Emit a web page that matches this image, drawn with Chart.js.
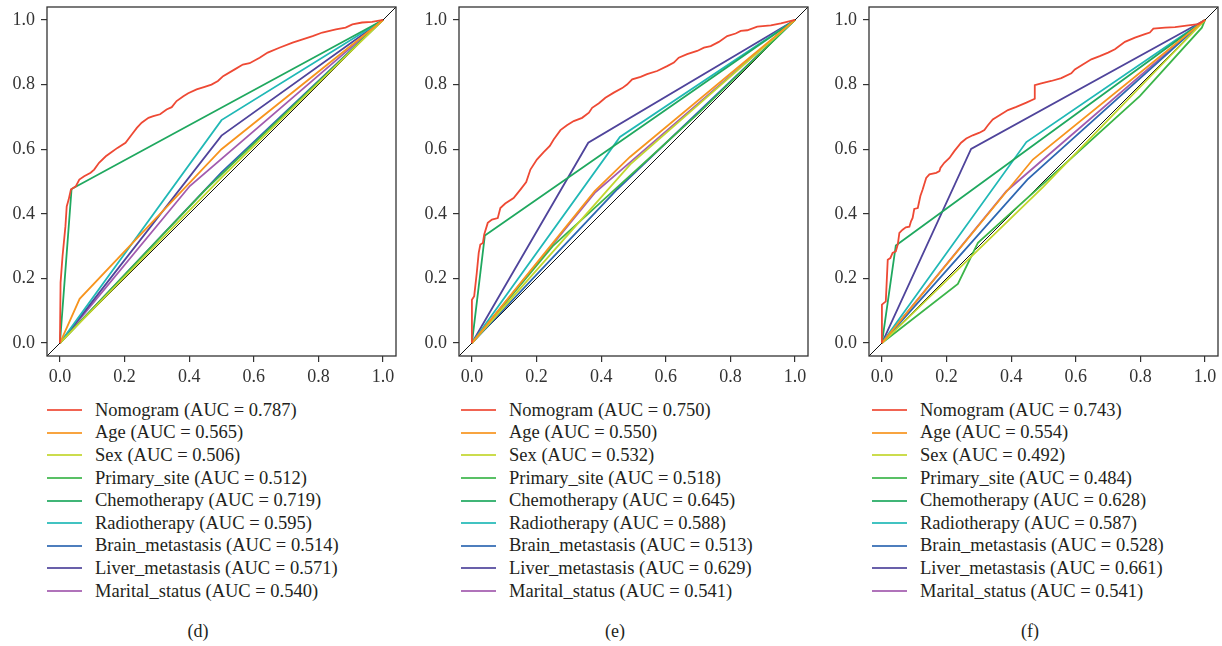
<!DOCTYPE html>
<html>
<head>
<meta charset="utf-8">
<title>ROC</title>
<script src="https://cdn.jsdelivr.net/npm/chart.js@4.4.1/dist/chart.umd.min.js"></script>
<style>
    html, body { margin: 0; padding: 0; background: #fff; }
    body { width: 1222px; height: 646px; position: relative; overflow: hidden;
           font-family: "Liberation Serif", "DejaVu Serif", serif; color: #231f20; }
    .painel { position: absolute; top: 0; }
    .legenda { position: absolute; top: 399px; font-size: 18.5px; }
    .legenda .item { display: flex; align-items: center; height: 22.6px; white-space: nowrap; }
    .legenda .traco { width: 35px; height: 2px; margin-right: 13px; flex: none; }
    .rotulo { position: absolute; top: 620px; font-size: 18px; line-height: 22px; transform: translateX(-50%); }
</style>
</head>
<body>
<canvas id="roc-d" class="painel" width="400" height="395" style="left:0px"></canvas>
<canvas id="roc-e" class="painel" width="400" height="395" style="left:412px"></canvas>
<canvas id="roc-f" class="painel" width="400" height="395" style="left:822px"></canvas>
<div id="leg-d" class="legenda" style="left:47px"></div>
<div id="leg-e" class="legenda" style="left:461px"></div>
<div id="leg-f" class="legenda" style="left:872px"></div>
<div class="rotulo" style="left:198px">(d)</div>
<div class="rotulo" style="left:615px">(e)</div>
<div class="rotulo" style="left:1030px">(f)</div>
<script>
(function () {
    "use strict";

    var NOMES = ["Nomogram", "Age", "Sex", "Primary_site", "Chemotherapy",
        "Radiotherapy", "Brain_metastasis", "Liver_metastasis", "Marital_status"];
    var CORES = ["#ee4934", "#f7941e", "#c2d62e", "#3cb54a", "#1fa85f",
        "#20b8b6", "#2e67b2", "#4f449b", "#a25bae"];
    var TICKS = [0, 0.2, 0.4, 0.6, 0.8, 1.0];
    var EIXO_MIN = -0.04, EIXO_MAX = 1.04;

    var AUC_D = [0.787, 0.565, 0.506, 0.512, 0.719, 0.595, 0.514, 0.571, 0.540];
    var AUC_E = [0.750, 0.550, 0.532, 0.518, 0.645, 0.588, 0.513, 0.629, 0.541];
    var AUC_F = [0.743, 0.554, 0.492, 0.484, 0.628, 0.587, 0.528, 0.661, 0.541];

    // (d) pontos [fpr, tpr]
    var nomogramD = [[0, 0], [0.002, 0.187], [0.008, 0.268], [0.017, 0.361], [0.021, 0.423], [0.027, 0.444],
        [0.034, 0.475], [0.049, 0.485], [0.06, 0.506], [0.075, 0.516], [0.095, 0.527], [0.106, 0.537],
        [0.121, 0.558], [0.142, 0.578], [0.157, 0.589], [0.178, 0.604], [0.203, 0.62], [0.223, 0.646],
        [0.238, 0.666], [0.253, 0.682], [0.274, 0.697], [0.289, 0.702], [0.31, 0.708], [0.33, 0.723],
        [0.346, 0.73], [0.361, 0.749], [0.382, 0.764], [0.397, 0.773], [0.423, 0.785], [0.448, 0.793],
        [0.469, 0.8], [0.489, 0.811], [0.505, 0.826], [0.541, 0.847], [0.566, 0.862], [0.587, 0.866],
        [0.618, 0.883], [0.643, 0.899], [0.679, 0.914], [0.72, 0.93], [0.751, 0.94], [0.782, 0.95],
        [0.812, 0.961], [0.854, 0.971], [0.884, 0.976], [0.905, 0.986], [0.935, 0.992], [0.966, 0.994], [1, 1]];
    var ageD = [[0, 0], [0.061, 0.137], [0.5, 0.6], [1, 1]];
    var sexD = [[0, 0], [0.5, 0.512], [1, 1]];
    var primaryD = [[0, 0], [0.45, 0.474], [1, 1]];
    var chemoD = [[0, 0], [0.036, 0.477], [1, 1]];
    var radioD = [[0, 0], [0.5, 0.69], [1, 1]];
    var brainD = [[0, 0], [0.5, 0.528], [1, 1]];
    var liverD = [[0, 0], [0.5, 0.642], [1, 1]];
    var maritalD = [[0, 0], [0.402, 0.486], [1, 1]];

    // (e)
    var nomogramE = [[0, 0], [0, 0.134], [0.007, 0.145], [0.015, 0.217], [0.021, 0.279], [0.026, 0.305],
        [0.034, 0.31], [0.038, 0.336], [0.049, 0.372], [0.062, 0.382], [0.08, 0.387], [0.088, 0.418],
        [0.103, 0.432], [0.129, 0.449], [0.15, 0.475], [0.168, 0.498], [0.181, 0.537], [0.201, 0.568],
        [0.222, 0.591], [0.241, 0.61], [0.253, 0.63], [0.274, 0.659], [0.294, 0.674], [0.315, 0.687],
        [0.341, 0.697], [0.362, 0.713], [0.372, 0.728], [0.393, 0.742], [0.413, 0.759], [0.439, 0.775],
        [0.465, 0.789], [0.48, 0.8], [0.496, 0.816], [0.522, 0.824], [0.542, 0.832], [0.573, 0.842],
        [0.604, 0.857], [0.625, 0.868], [0.64, 0.883], [0.666, 0.894], [0.697, 0.904], [0.718, 0.914],
        [0.739, 0.919], [0.764, 0.932], [0.79, 0.95], [0.816, 0.958], [0.832, 0.966], [0.852, 0.968],
        [0.883, 0.979], [0.925, 0.983], [0.956, 0.989], [1, 1]];
    var ageE = [[0, 0], [0.38, 0.47], [0.489, 0.576], [1, 1]];
    var sexE = [[0, 0], [0.49, 0.553], [1, 1]];
    var primaryE = [[0, 0], [0.25, 0.3], [0.7, 0.71], [1, 1]];
    var chemoE = [[0, 0], [0.04, 0.333], [1, 1]];
    var radioE = [[0, 0], [0.458, 0.638], [1, 1]];
    var brainE = [[0, 0], [0.45, 0.476], [1, 1]];
    var liverE = [[0, 0], [0.36, 0.62], [1, 1]];
    var maritalE = [[0, 0], [0.38, 0.465], [1, 1]];

    // (f)
    var nomogramF = [[0, 0], [0, 0.119], [0.012, 0.129], [0.018, 0.258], [0.026, 0.263], [0.033, 0.279],
        [0.043, 0.284], [0.049, 0.305], [0.054, 0.341], [0.064, 0.351], [0.074, 0.358], [0.085, 0.36],
        [0.09, 0.377], [0.095, 0.387], [0.1, 0.415], [0.111, 0.418], [0.119, 0.455], [0.126, 0.475],
        [0.137, 0.511], [0.147, 0.522], [0.168, 0.527], [0.178, 0.532], [0.181, 0.542], [0.193, 0.558],
        [0.209, 0.573], [0.224, 0.594], [0.245, 0.62], [0.261, 0.633], [0.281, 0.643], [0.302, 0.651],
        [0.317, 0.659], [0.328, 0.674], [0.343, 0.692], [0.369, 0.708], [0.39, 0.721], [0.416, 0.731],
        [0.447, 0.744], [0.473, 0.756], [0.473, 0.798], [0.493, 0.804], [0.524, 0.811], [0.555, 0.82],
        [0.586, 0.835], [0.597, 0.847], [0.623, 0.863], [0.648, 0.878], [0.674, 0.888], [0.7, 0.899],
        [0.721, 0.909], [0.752, 0.932], [0.783, 0.945], [0.814, 0.956], [0.829, 0.961], [0.84, 0.973],
        [0.876, 0.976], [0.907, 0.978], [0.948, 0.983], [0.979, 0.987], [1, 1]];
    var ageF = [[0, 0], [0.467, 0.568], [1, 1]];
    var sexF = [[0, 0], [0.5, 0.484], [1, 1]];
    var primaryF = [[0, 0], [0.235, 0.183], [0.297, 0.31], [0.798, 0.764], [0.99, 0.976], [1, 1]];
    var chemoF = [[0, 0], [0.043, 0.302], [1, 1]];
    var radioF = [[0, 0], [0.447, 0.622], [1, 1]];
    var brainF = [[0, 0], [0.45, 0.506], [1, 1]];
    var liverF = [[0, 0], [0.276, 0.601], [1, 1]];
    var maritalF = [[0, 0], [0.385, 0.47], [1, 1]];

    var FONTE = "'Liberation Serif', 'DejaVu Serif', serif";
    var TINTA = "#333333";

    // caixa completa em volta da área do gráfico
    var moldura = {
        id: "moldura",
        afterDatasetsDraw: function (chart) {
            var a = chart.chartArea, ctx = chart.ctx;
            ctx.save();
            ctx.strokeStyle = TINTA;
            ctx.lineWidth = 1.3;
            ctx.strokeRect(a.left, a.top, a.right - a.left, a.bottom - a.top);
            ctx.restore();
        }
    };

    function eixo(afterFit) {
        return {
            type: "linear", min: EIXO_MIN, max: EIXO_MAX,
            afterBuildTicks: function (s) { s.ticks = TICKS.map(function (v) { return { value: v }; }); },
            afterFit: function (s) {
                afterFit(s);
                // sem folga extra para o primeiro/último rótulo
                s.paddingTop = 0; s.paddingBottom = 0; s.paddingLeft = 0; s.paddingRight = 0;
            },
            ticks: {
                callback: function (v) { return Number(v).toFixed(1); },
                font: { family: FONTE, size: 18 }, color: TINTA,
                maxRotation: 0, autoSkip: false, padding: 4
            },
            grid: { drawOnChartArea: false, drawTicks: true, tickLength: 6, color: TINTA, lineWidth: 1.2 },
            border: { display: false }
        };
    }

    function criar(id, curvas) {
        var datasets = curvas.map(function (c, i) {
            return {
                label: NOMES[i],
                data: c.map(function (p) { return { x: p[0], y: p[1] }; }),
                borderColor: CORES[i], borderWidth: 1.8,
                pointRadius: 0, tension: 0, fill: false
            };
        });
        // diagonal de referência
        datasets.push({
            label: "ref",
            data: [{ x: EIXO_MIN, y: EIXO_MIN }, { x: EIXO_MAX, y: EIXO_MAX }],
            borderColor: "#111", borderWidth: 1, pointRadius: 0, fill: false
        });
        var x = eixo(function (s) { s.height = 39; });
        var y = eixo(function (s) { s.width = 47; });
        y.ticks.padding = 6;
        return new Chart(document.getElementById(id), {
            type: "line",
            data: { datasets: datasets },
            options: {
                responsive: false, animation: false, devicePixelRatio: 1,
                layout: { padding: { top: 7, right: 4, left: 0, bottom: 0 } },
                plugins: { legend: { display: false }, tooltip: { enabled: false } },
                scales: { x: x, y: y }
            },
            plugins: [moldura]
        });
    }

    function legenda(id, aucs) {
        var box = document.getElementById(id);
        NOMES.forEach(function (n, i) {
            var item = document.createElement("div");
            item.className = "item";
            var t = document.createElement("span");
            t.className = "traco";
            t.style.background = CORES[i];
            t.style.opacity = "0.85";
            var s = document.createElement("span");
            s.textContent = n + " (AUC = " + aucs[i].toFixed(3) + ")";
            item.appendChild(t);
            item.appendChild(s);
            box.appendChild(item);
        });
    }

    criar("roc-d", [nomogramD, ageD, sexD, primaryD, chemoD, radioD, brainD, liverD, maritalD]);
    criar("roc-e", [nomogramE, ageE, sexE, primaryE, chemoE, radioE, brainE, liverE, maritalE]);
    criar("roc-f", [nomogramF, ageF, sexF, primaryF, chemoF, radioF, brainF, liverF, maritalF]);
    legenda("leg-d", AUC_D);
    legenda("leg-e", AUC_E);
    legenda("leg-f", AUC_F);
})();
</script>
</body>
</html>
